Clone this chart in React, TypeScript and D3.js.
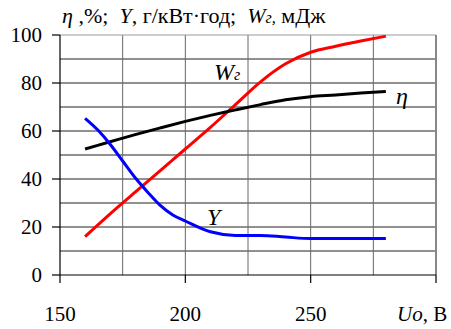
import React from "react";
import * as d3 from "d3";

const xTicks = [150, 200, 250, 300];
const xGrid = [175, 200, 225, 250, 275];
const yTicks = [0, 20, 40, 60, 80, 100];
const yGrid = [10, 20, 30, 40, 50, 60, 70, 80, 90];

const uVals = [160, 170, 180, 190, 200, 210, 220, 230, 240, 250, 260, 270, 280];
const wVals = [16, 25.5, 34.5, 43.5, 52.5, 61.5, 71, 80.5, 88, 92.8, 95.3, 97.5, 99.5];
const etaVals = [52.5, 55.5, 58.5, 61.3, 64, 66.5, 68.8, 71, 73, 74.3, 75, 75.8, 76.5];

const yU = [160, 165, 170, 175, 180, 185, 190, 195, 200, 210, 220, 230, 240, 250, 260, 270, 280];
const yVals = [65.3, 60.5, 54.5, 47.5, 40.5, 34.5, 29, 25, 22.5, 18, 16.5, 16.5, 15.8, 15.2, 15.2, 15.2, 15.2];

const W = 451;
const H = 329;
const L = 60, T = 35, R = 436, B = 275;
const font = "'Liberation Serif', 'Times New Roman', 'DejaVu Serif', serif";
const NB = "\u00A0";

export default function App() {
  const x = d3.scaleLinear().domain([150, 300]).range([L, R]);
  const y = d3.scaleLinear().domain([0, 100]).range([B, T]);
  const line = d3
    .line<[number, number]>()
    .x((d) => x(d[0]))
    .y((d) => y(d[1]))
    .curve(d3.curveMonotoneX);
  const wPath = line(uVals.map((u, i) => [u, wVals[i]] as [number, number])) || "";
  const ePath = line(uVals.map((u, i) => [u, etaVals[i]] as [number, number])) || "";
  const yPath = line(yU.map((u, i) => [u, yVals[i]] as [number, number])) || "";
  const ts = { fontFamily: font, whiteSpace: "pre" as const };
  return (
    <svg width={W} height={H} style={{ position: "absolute", left: 0, top: 0, background: "#fff" }}>
      {yGrid.map((v) => (
        <line key={"hy" + v} x1={L} x2={R} y1={y(v)} y2={y(v)} stroke="#222" strokeWidth={1} />
      ))}
      {xGrid.map((v) => (
        <line key={"vx" + v} x1={x(v)} x2={x(v)} y1={T} y2={B} stroke="#666" strokeWidth={1} />
      ))}
      <line x1={L} x2={R} y1={T} y2={T} stroke="#999" strokeWidth={1} />
      <line x1={R} x2={R} y1={T} y2={B} stroke="#888" strokeWidth={2} />
      <line x1={L} x2={L} y1={T} y2={B} stroke="#000" strokeWidth={1.2} />
      <line x1={L} x2={R} y1={B} y2={B} stroke="#000" strokeWidth={1.2} />
      {yTicks.map((v) => (
        <g key={"yt" + v}>
          <line x1={L - 8} x2={L} y1={y(v)} y2={y(v)} stroke="#000" strokeWidth={1.2} />
          <text x={42} y={y(v) + 7} fontSize={21} textAnchor="end" fill="#000" style={ts}>
            {v}
          </text>
        </g>
      ))}
      {xTicks.map((v) => (
        <g key={"xt" + v}>
          <line x1={x(v)} x2={x(v)} y1={B} y2={B + 8} stroke="#000" strokeWidth={1.2} />
          {v < 300 && (
            <text x={x(v)} y={321} fontSize={21} textAnchor="middle" fill="#000" style={ts}>
              {v}
            </text>
          )}
        </g>
      ))}
      <path d={wPath} fill="none" stroke="#ff0000" strokeWidth={3} />
      <path d={ePath} fill="none" stroke="#000" strokeWidth={3} />
      <path d={yPath} fill="none" stroke="#0000ff" strokeWidth={3} />
      <text x={214} y={80} fontSize={24} fontStyle="italic" style={ts}>
        W<tspan fontSize={16}>г</tspan>
      </text>
      <text x={396} y={104} fontSize={24} fontStyle="italic" style={ts}>η</text>
      <text x={207} y={225} fontSize={24} fontStyle="italic" style={ts}>Y</text>
      <text x={62} y={23} fontSize={22} fill="#000" style={ts}>
        <tspan fontStyle="italic">η</tspan>
        <tspan>{NB + ",%;" + NB + NB}</tspan>
        <tspan fontStyle="italic">Y</tspan>
        <tspan>{", г/кВт·год;" + NB + NB}</tspan>
        <tspan fontStyle="italic">W</tspan>
        <tspan fontStyle="italic" fontSize={16}>г,</tspan>
        <tspan>{NB + "мДж"}</tspan>
      </text>
      <text x={397} y={321} fontSize={21} fill="#000" style={ts}>
        <tspan fontStyle="italic">Uo</tspan>
        <tspan>, В</tspan>
      </text>
    </svg>
  );
}
